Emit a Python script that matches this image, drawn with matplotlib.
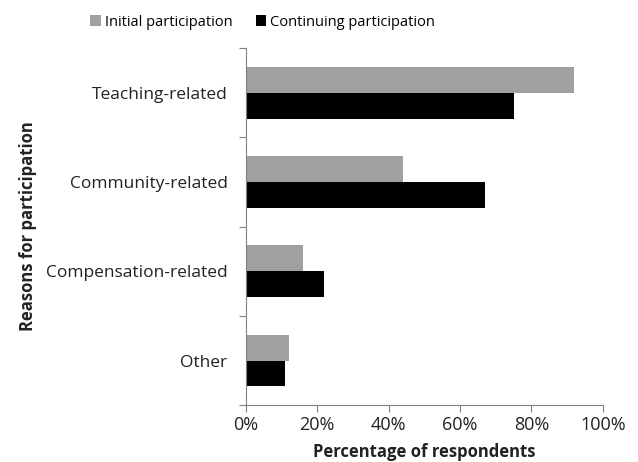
import matplotlib.pyplot as plt
import numpy as np

plt.rcParams['font.family'] = ['Open Sans', 'DejaVu Sans']

# Data (top to bottom as in the chart)
categories = ['Teaching-related', 'Community-related', 'Compensation-related', 'Other']
initial = [92, 44, 16, 12]
continuing = [75, 67, 22, 11]
x_ticks = [0, 20, 40, 60, 80, 100]

fig = plt.figure(figsize=(6.38, 4.62), dpi=100)
ax = fig.add_axes([0.385, 0.123, 0.56, 0.773])

n = len(categories)
centers = np.arange(n)[::-1] + 0.5
h = 0.29

ax.barh(centers + h / 2, initial, height=h, color='#a0a0a0', label='Initial participation')
ax.barh(centers - h / 2, continuing, height=h, color='black', label='Continuing participation')

ax.set_xlim(0, 100)
ax.set_ylim(0, n)
ax.set_xticks(x_ticks)
ax.set_xticklabels([f'{v}%' for v in x_ticks], fontsize=13, color='#222222')

# group boundary ticks, category labels on minor ticks
ax.set_yticks(np.arange(n + 1))
ax.set_yticklabels([])
ax.set_yticks(centers, minor=True)
ax.set_yticklabels(categories, minor=True, fontsize=12.5, color='#222222')
ax.tick_params(axis='y', which='minor', length=0, pad=13)
ax.tick_params(axis='y', which='major', length=5, color='#808080', direction='out')
ax.tick_params(axis='x', length=5, color='#808080', direction='out', pad=3)

for s in ['top', 'right']:
    ax.spines[s].set_visible(False)
for s in ['left', 'bottom']:
    ax.spines[s].set_color('#808080')

ax.set_xlabel('Percentage of respondents', fontsize=12, fontweight='bold', color='#222222', labelpad=6)
ax.set_ylabel('Reasons for participation', fontsize=12, fontweight='bold', color='#222222', labelpad=6)

fig.legend(loc='center', bbox_to_anchor=(0.412, 0.952), ncol=2, frameon=False,
           fontsize=10.5, handlelength=0.7, handleheight=0.7, columnspacing=1.6, handletextpad=0.3)

fig.savefig('out.png', dpi=100)
